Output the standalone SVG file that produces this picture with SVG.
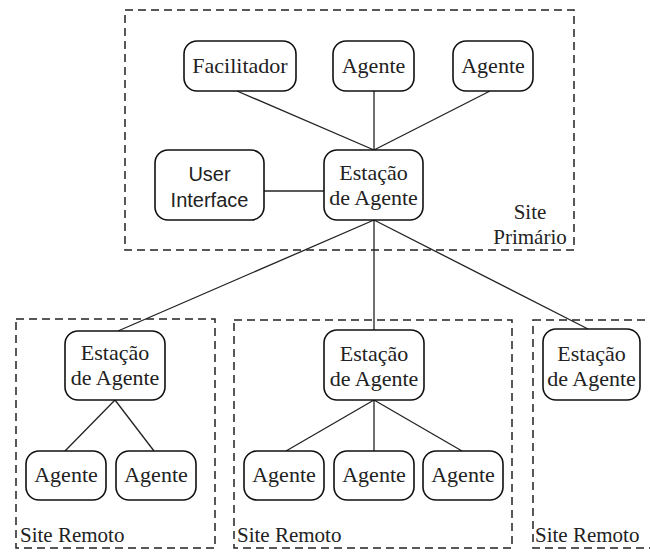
<svg xmlns="http://www.w3.org/2000/svg" width="650" height="552" viewBox="0 0 650 552">
  <style>
    .site { fill: none; stroke: #222; stroke-width: 1.5; stroke-dasharray: 8 5; }
    .node rect { fill: #fff; stroke: #111; stroke-width: 1.6; }
    .node text { font-size: 22px; }
    .link { stroke: #222; stroke-width: 1.3; fill: none; }
    text { font-family: "Liberation Serif", "Times New Roman", serif; font-size: 21px; fill: #222; }
    .c { text-anchor: middle; }
    .node text.sans { font-family: "Liberation Sans", Arial, sans-serif; font-size: 20px; }
  </style>
  <rect width="650" height="552" fill="#fff"/>

  <!-- site boundaries -->
  <g id="sites">
    <rect class="site" x="125" y="10" width="449" height="240"/>
    <text class="c" x="530" y="219">Site</text>
    <text class="c" x="530" y="244">Primário</text>
    <rect class="site" x="16" y="319" width="199" height="229"/>
    <text x="20" y="542">Site Remoto</text>
    <rect class="site" x="234" y="320" width="278" height="228"/>
    <text x="237" y="542">Site Remoto</text>
    <rect class="site" x="533" y="320" width="130" height="228"/>
    <text x="535" y="542">Site Remoto</text>
  </g>

  <!-- connectors -->
  <g id="links">
    <line class="link" x1="237" y1="91" x2="374" y2="150"/>
    <line class="link" x1="374" y1="91" x2="374" y2="150"/>
    <line class="link" x1="490" y1="91" x2="374" y2="150"/>
    <line class="link" x1="264" y1="191" x2="324" y2="191"/>
    <line class="link" x1="374" y1="220" x2="118" y2="331"/>
    <line class="link" x1="374" y1="220" x2="374" y2="330"/>
    <line class="link" x1="374" y1="220" x2="588" y2="329"/>
    <line class="link" x1="115" y1="400" x2="65" y2="451"/>
    <line class="link" x1="115" y1="400" x2="154" y2="451"/>
    <line class="link" x1="374" y1="400" x2="286" y2="451"/>
    <line class="link" x1="374" y1="400" x2="374" y2="451"/>
    <line class="link" x1="374" y1="400" x2="462" y2="451"/>
  </g>

  <!-- primary site nodes -->
  <g id="facilitador" class="node">
    <rect x="184" y="41" width="112" height="50" rx="13"/>
    <text class="c" x="240" y="73">Facilitador</text>
  </g>
  <g id="agente-p1" class="node">
    <rect x="333" y="41" width="81" height="50" rx="13"/>
    <text class="c" x="373.5" y="73">Agente</text>
  </g>
  <g id="agente-p2" class="node">
    <rect x="453" y="41" width="80" height="50" rx="13"/>
    <text class="c" x="493" y="73">Agente</text>
  </g>
  <g id="user-interface" class="node">
    <rect x="155" y="150" width="109" height="70" rx="13"/>
    <text class="c sans" x="209.5" y="181">User</text>
    <text class="c sans" x="209.5" y="207">Interface</text>
  </g>
  <g id="estacao-primaria" class="node">
    <rect x="324" y="150" width="99" height="70" rx="13"/>
    <text class="c" x="373.5" y="180">Estação</text>
    <text class="c" x="373.5" y="205">de Agente</text>
  </g>

  <!-- remote site 1 -->
  <g id="estacao-r1" class="node">
    <rect x="65" y="331" width="100" height="69" rx="13"/>
    <text class="c" x="115" y="360">Estação</text>
    <text class="c" x="115" y="385">de Agente</text>
  </g>
  <g id="agente-r1a" class="node">
    <rect x="26" y="451" width="80" height="49" rx="13"/>
    <text class="c" x="66" y="482">Agente</text>
  </g>
  <g id="agente-r1b" class="node">
    <rect x="116" y="451" width="80" height="49" rx="13"/>
    <text class="c" x="156" y="482">Agente</text>
  </g>

  <!-- remote site 2 -->
  <g id="estacao-r2" class="node">
    <rect x="324" y="330" width="100" height="70" rx="13"/>
    <text class="c" x="374" y="361">Estação</text>
    <text class="c" x="374" y="386">de Agente</text>
  </g>
  <g id="agente-r2a" class="node">
    <rect x="244" y="451" width="80" height="49" rx="13"/>
    <text class="c" x="284" y="482">Agente</text>
  </g>
  <g id="agente-r2b" class="node">
    <rect x="334" y="451" width="80" height="49" rx="13"/>
    <text class="c" x="374" y="482">Agente</text>
  </g>
  <g id="agente-r2c" class="node">
    <rect x="423" y="451" width="80" height="49" rx="13"/>
    <text class="c" x="463" y="482">Agente</text>
  </g>

  <!-- remote site 3 -->
  <g id="estacao-r3" class="node">
    <rect x="543" y="329" width="97" height="71" rx="13"/>
    <text class="c" x="591.5" y="361">Estação</text>
    <text class="c" x="591.5" y="386">de Agente</text>
  </g>
</svg>
